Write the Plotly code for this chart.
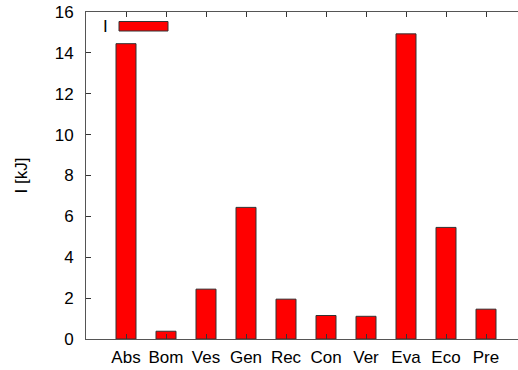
import plotly.graph_objects as go

categories = ["Abs", "Bom", "Ves", "Gen", "Rec", "Con", "Ver", "Eva", "Eco", "Pre"]
values = [14.45, 0.38, 2.44, 6.44, 1.95, 1.15, 1.11, 14.93, 5.46, 1.46]
y_ticks = [0, 2, 4, 6, 8, 10, 12, 14, 16]
series_name = "I"
y_title = "I [kJ]"

W, H = 518, 370
ml, mt, mb, mr = 86, 12, 31, 0
pw, ph = W - ml - mr, H - mt - mb

def px_to_paper_x(px):
    return (px - ml) / pw

def px_to_paper_y(py):
    return (H - mb - py) / ph

fig = go.Figure()
fig.add_trace(go.Bar(
    x=list(range(len(categories))),
    y=values,
    width=0.5,
    marker=dict(color="#ff0000", line=dict(color="#333333", width=1)),
    name=series_name,
    showlegend=False,
))

font_family = "Liberation Sans, Arial, sans-serif"
fs = 17

fig.update_layout(
    width=W, height=H,
    margin=dict(l=ml, r=mr, t=mt, b=mb, pad=0),
    paper_bgcolor="white",
    plot_bgcolor="white",
    font=dict(family=font_family, size=fs, color="black"),
    xaxis=dict(
        range=[-1, 9.8],
        tickmode="array",
        tickvals=list(range(len(categories))),
        ticktext=categories,
        ticks="inside", ticklen=5, tickcolor="#333333",
        showline=True, linecolor="#555555", linewidth=1, mirror="ticks",
        showgrid=False, zeroline=False,
        tickfont=dict(size=fs),
        ticklabelstandoff=3,
    ),
    yaxis=dict(
        range=[0, 16],
        tickmode="array",
        tickvals=y_ticks,
        ticktext=[str(v) for v in y_ticks],
        ticks="inside", ticklen=5, tickcolor="#333333",
        showline=True, linecolor="#555555", linewidth=1,
        showgrid=False, zeroline=False,
        tickfont=dict(size=fs),
        ticklabelstandoff=8,
        title=dict(text=y_title, font=dict(size=fs), standoff=22),
    ),
    shapes=[dict(
        type="rect", xref="paper", yref="paper",
        x0=px_to_paper_x(119), x1=px_to_paper_x(168),
        y0=px_to_paper_y(31), y1=px_to_paper_y(21.5),
        fillcolor="#ff0000", line=dict(color="#333333", width=1),
    )],
    annotations=[dict(
        text=series_name, xref="paper", yref="paper",
        x=px_to_paper_x(105), y=px_to_paper_y(26),
        xanchor="center", yanchor="middle", showarrow=False,
        font=dict(size=fs),
    )],
)

fig.write_html("out.html")
